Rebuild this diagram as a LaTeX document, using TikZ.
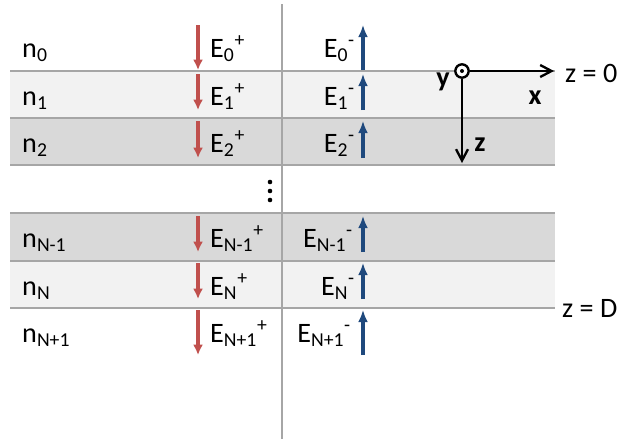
\documentclass[tikz,border=0pt]{standalone}
\usepackage{fontspec}
\setmainfont{Carlito}
\usetikzlibrary{arrows.meta, positioning}
\definecolor{fieldred}{RGB}{192,80,77}
\definecolor{fieldblue}{RGB}{31,73,125}
\definecolor{layerlight}{RGB}{242,242,242}
\definecolor{layerdark}{RGB}{217,217,217}
\definecolor{rulegray}{RGB}{166,166,166}
\tikzset{
  lbl/.style={font=\fontsize{24}{28}\selectfont, inner sep=0pt},
  axlbl/.style={lbl, font=\fontsize{24}{28}\selectfont\bfseries},
  fwd/.style={fieldred, line width=3pt, -{Latex[length=3.1mm,width=3mm]}},
  bwd/.style={fieldblue, line width=3pt, -{Latex[length=3.6mm,width=3mm]}},
  interface/.style={rulegray, line width=2.2pt},
  axis/.style={line width=2pt, -{Straight Barb[length=3.4mm,width=3.6mm]}}
}
\begin{document}
\begin{tikzpicture}[x=0.03cm, y=-0.03cm]
\useasboundingbox (0,0) rectangle (620,439);
% layers
\fill[layerlight] (10,71) rectangle (555,118);
\fill[layerdark] (10,118) rectangle (555,165);
\fill[layerdark] (10,213) rectangle (555,261);
\fill[layerlight] (10,261) rectangle (555,308);
\foreach \y in {71,118,165,213,261,308}
  \draw[interface] (10,\y) -- (555,\y);
\draw[rulegray, line width=1.8pt] (282,4) -- (282,439);

% fields in each layer
\foreach \nm/\sub/\top/\bot/\base/\mx in {0/0/25/70/57/355, 1/1/74/110/105/355, 2/2/121/158/152/355, Nm/N-1/216/252/247/353, N/N/263/299/295/355, Np/N+1/310/355/342/351}{
  \node[lbl, anchor=base west] (n\nm) at (22,\base) {n\textsubscript{\sub}};
  \coordinate (fa\nm) at (198,\top);
  \coordinate (fb\nm) at (198,\bot);
  \coordinate (ba\nm) at (363,\bot);
  \coordinate (bb\nm) at (363,\top);
  \draw[fwd] (fa\nm) -- (fb\nm);
  \draw[bwd] (ba\nm) -- (bb\nm);
  \node[lbl, anchor=base west] (Ep\nm) at (210,\base) {E\textsubscript{\sub}\textsuperscript{+}};
  \node[lbl, anchor=base east] (Em\nm) at (\mx,\base) {E\textsubscript{\sub}\textsuperscript{-}};
}
\foreach \y in {182,191,200}
  \fill (270,\y) circle (2.3);

% axes
\node[circle, draw, fill=white, line width=2pt, minimum size=4mm, inner sep=0pt] (O) at (462,71) {};
\fill (O) circle (2);
\coordinate (xend) at (554,71);
\coordinate (zend) at (462,163);
\draw[axis] (O.east) -- (xend);
\draw[axis] (O.south) -- (zend);
\node[axlbl, anchor=base] (xl) at (535,104) {x};
\node[axlbl, anchor=base] (yl) at (443,86) {y};
\node[axlbl, anchor=base] (zl) at (480,151) {z};
\node[lbl, anchor=base west] (z0) at (565,82) {z = 0};
\node[lbl, anchor=base west] (zD) at (562,317) {z = D};
\end{tikzpicture}
\end{document}
